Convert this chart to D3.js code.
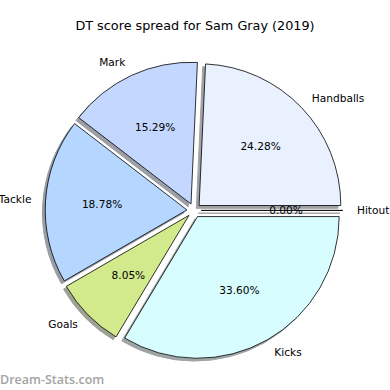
<!doctype html>
<html lang="en">
  <head>
    <meta charset="utf-8">
    <title>DT score spread</title>
    <script src="https://d3js.org/d3.v7.min.js"></script>
    <style>
    body { margin: 0; background: #fff; }
    text { font-family: "DejaVu Sans", sans-serif; fill: #000; }
    </style>
  </head>

  <body>
    <svg width="390" height="390"></svg>

    <script>
      // data, in matplotlib order (counter-clockwise from 3 o'clock)
      var categories = ['Hitout', 'Handballs', 'Mark', 'Tackle', 'Goals', 'Kicks'];
      var percents = [0.00, 24.28, 15.29, 18.78, 8.05, 33.60];
      var colours = ['#ffffff', '#e9f1ff', '#c4d8ff', '#b4d6ff', '#d2ea8c', '#d8fdff'];

      var svg = d3.select('svg');

      var cx = 194, cy = 210.4, r = 141.7;
      var explode = 0.05 * r;

      svg.append('text')
        .attr('x', 195)
        .attr('y', 30)
        .attr('text-anchor', 'middle')
        .style('font-size', '12.8px')
        .text('DT score spread for Sam Gray (2019)');

      // pie going counter-clockwise from 3 o'clock
      var pie = d3.pie()
        .sort(null)
        .startAngle(Math.PI / 2)
        .endAngle(Math.PI / 2 - 2 * Math.PI);

      var arcs = pie(percents);
      var arc = d3.arc().innerRadius(0).outerRadius(r);

      var mid = function(d){ return (d.startAngle + d.endAngle) / 2; };
      var offset = function(d, k){
        var a = mid(d);
        return [cx + (explode + k * r) * Math.sin(a), cy - (explode + k * r) * Math.cos(a)];
      };
      var shade = function(d, i){
        var c = d3.rgb(colours[i]);
        return d3.rgb(c.r * 0.3, c.g * 0.3, c.b * 0.3);
      };

      var g = svg.append('g');

      // shadows underneath
      g.selectAll('path.shadow')
        .data(arcs)
        .enter().append('path')
          .attr('class', 'shadow')
          .attr('d', arc)
          .attr('transform', function(d){
            var p = offset(d, 0);
            return 'translate(' + (p[0] - 2.8) + ',' + (p[1] + 2.8) + ')';
          })
          .attr('fill', shade)
          .attr('stroke', shade)
          .attr('stroke-width', 1)
          .attr('opacity', 0.5);

      g.selectAll('path.wedge')
        .data(arcs)
        .enter().append('path')
          .attr('class', 'wedge')
          .attr('d', arc)
          .attr('transform', function(d){
            var p = offset(d, 0);
            return 'translate(' + p[0] + ',' + p[1] + ')';
          })
          .attr('fill', function(d, i){ return colours[i]; })
          .attr('stroke', '#000')
          .attr('stroke-width', 0.8);

      // category labels
      g.selectAll('text.label')
        .data(arcs)
        .enter().append('text')
          .attr('class', 'label')
          .attr('x', function(d){ return offset(d, 1.1)[0]; })
          .attr('y', function(d){ return offset(d, 1.1)[1]; })
          .attr('dy', '0.35em')
          .attr('text-anchor', function(d){ return Math.sin(mid(d)) > 0 ? 'start' : 'end'; })
          .style('font-size', '10.6px')
          .text(function(d, i){ return categories[i]; });

      // percentages
      g.selectAll('text.pct')
        .data(arcs)
        .enter().append('text')
          .attr('class', 'pct')
          .attr('x', function(d){ return offset(d, 0.6)[0]; })
          .attr('y', function(d){ return offset(d, 0.6)[1]; })
          .attr('dy', '0.35em')
          .attr('text-anchor', 'middle')
          .style('font-size', '10.6px')
          .text(function(d){ return d3.format('.2f')(d.data) + '%'; });

      svg.append('text')
        .attr('x', 0)
        .attr('y', 384)
        .style('font-family', '"Open Sans", sans-serif')
        .style('font-size', '12.5px')
        .style('font-weight', '600')
        .style('fill', '#a3a3a3')
        .text('Dream-Stats.com');
    </script>
  </body>
</html>
